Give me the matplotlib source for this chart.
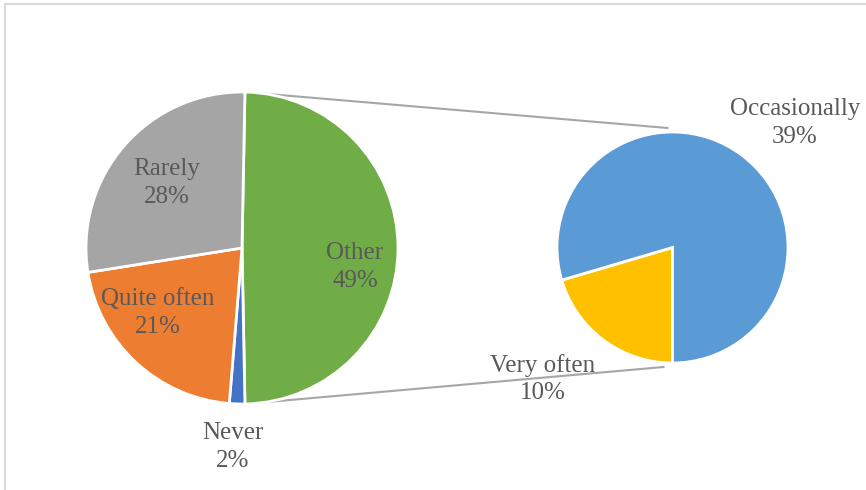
import numpy as np
import matplotlib
matplotlib.use("Agg")
import matplotlib.pyplot as plt
from matplotlib.patches import Rectangle

# data (percent of responses)
main_labels = ["Other", "Never", "Quite often", "Rarely"]
main_values = [49.4, 1.6, 21.2, 27.8]
main_colors = ["#70AD47", "#4472C4", "#ED7D31", "#A5A5A5"]

sub_labels = ["Very often", "Occasionally"]
sub_values = [10.1, 39.3]
sub_colors = ["#FFC000", "#5B9BD5"]

W, H = 866, 490
fig = plt.figure(figsize=(W / 100, H / 100), dpi=100)
ax = fig.add_axes([0, 0, 1, 1])

plt.rcParams["font.family"] = ["Liberation Serif", "DejaVu Serif"]
txt_color = "#595959"
fs = 18

# main pie, "Other" slice centred on the right
c1 = (242, H - 248)
r1 = 156
start1 = main_values[0] / 2 * 3.6
ax.pie(main_values, colors=main_colors, center=c1, radius=r1,
       startangle=start1, counterclock=False,
       wedgeprops=dict(edgecolor="white", linewidth=2), frame=True)

# secondary pie
c2 = (672.5, H - 247.5)
r2 = 115.5
ax.pie(sub_values, colors=sub_colors, center=c2, radius=r2,
       startangle=-90, counterclock=False,
       wedgeprops=dict(edgecolor="white", linewidth=2), frame=True)
ax.set_xlim(0, W)
ax.set_ylim(0, H)
ax.set_aspect("equal")
ax.axis("off")

# connector lines
a = np.deg2rad(start1)
p_top = (c1[0] + r1 * np.cos(a), c1[1] + r1 * np.sin(a))
p_bot = (c1[0] + r1 * np.cos(-a), c1[1] + r1 * np.sin(-a))
ax.plot([p_top[0], c2[0] - 5], [p_top[1], c2[1] + r2 + 4], color="#A6A6A6", lw=1.5, zorder=0)
ax.plot([p_bot[0], c2[0] - 9], [p_bot[1], c2[1] - r2 - 4], color="#A6A6A6", lw=1.5, zorder=0)

# data labels
def lab(name, val, x, y):
    ax.text(x, H - y, f"{name}\n{val:.0f}%", ha="center", va="center",
            fontsize=fs, color=txt_color, linespacing=1.35)

lab("Rarely", main_values[3], 167, 183)
lab("Quite often", main_values[2], 158, 313)
lab("Other", main_values[0], 355, 267)
lab("Never", main_values[1], 233, 447)
lab("Occasionally", sub_values[1], 795, 123)
lab("Very often", sub_values[0], 543, 379)

# chart area border (only left/top visible)
fig.patches.append(Rectangle((4.5 / W, -0.1), 1.2, (H - 4) / H + 0.1,
                             transform=fig.transFigure, fill=False,
                             edgecolor="#D9D9D9", lw=1.5))

fig.savefig("out.png", dpi=100, facecolor="white")
